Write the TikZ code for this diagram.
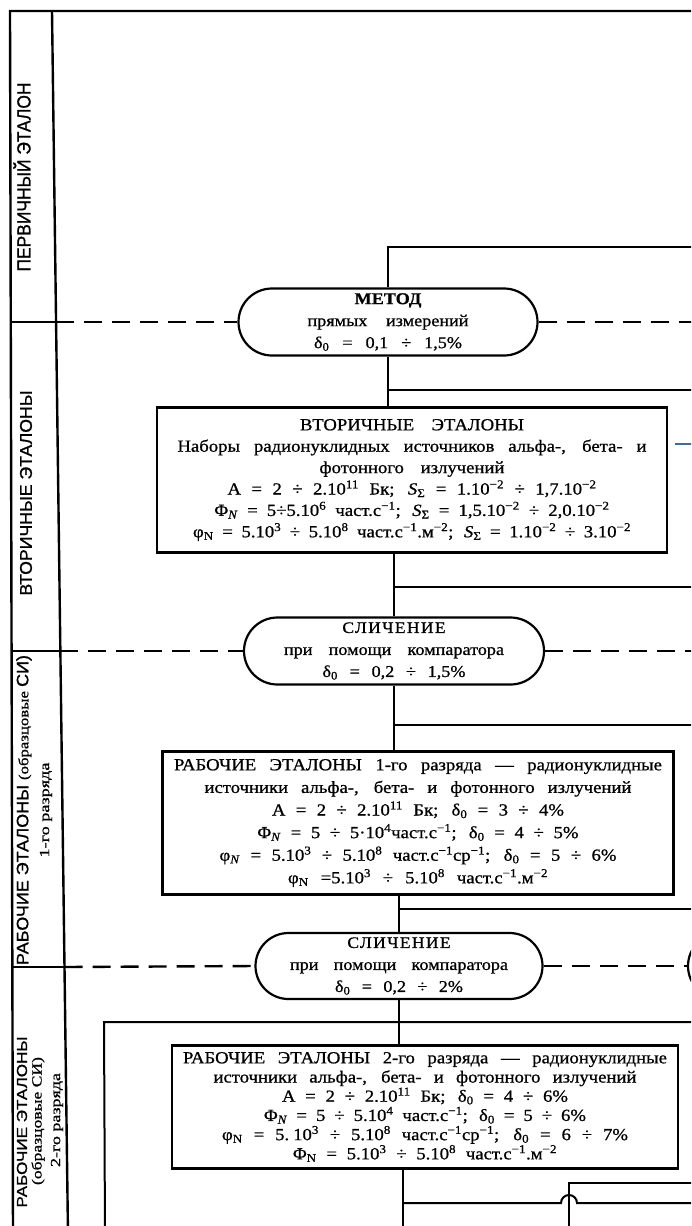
\documentclass[tikz,border=0pt]{standalone}
\usepackage{fontspec}
\setmainfont{Liberation Serif}
\newfontfamily\labelsans[FakeBold=1]{Liberation Sans}
\newfontfamily\boxserif[FakeStretch=1.1,FakeBold=0.8]{Liberation Serif}
\newfontfamily\capsserif[FakeStretch=1.1,FakeBold=0.8,LetterSpace=8]{Liberation Serif}
\usetikzlibrary{shapes.misc}
\definecolor{markblue}{RGB}{70,105,155}
% one line of text stretched to a given width at its spaces
\newcommand\wline[2]{\makebox[#1][s]{#2}}
\newcommand\sps[1]{\textsuperscript{#1}}
\newcommand\sbs[1]{\textsubscript{#1}}
% squeeze or stretch a label to a given length, keeping its height
\newcommand\fitlen[2]{\resizebox{#1}{\height}{#2}}

\tikzset{
  frameline/.style={line width=2.4pt},
  conn/.style={line width=2pt},
  levelline/.style={line width=2.4pt, dash pattern=on 18pt off 10pt},
  pill/.style={draw, rounded rectangle, line width=2.2pt, inner sep=0pt,
    minimum height=67pt, align=center, font=\boxserif\fontsize{16.5}{22}\selectfont},
  stdbox/.style={draw, rectangle, line width=2.5pt, inner sep=0pt, align=center},
  rowlabel/.style={rotate=90, inner sep=0pt},
  bluemark/.style={line width=1.2pt, draw=markblue}
}

\begin{document}
\begin{tikzpicture}[x=1pt,y=1pt]
\useasboundingbox (0,0) rectangle (691,-1226);
\fill[white] (0,0) rectangle (691,-1226);
\clip (0,0) rectangle (691,-1226);

% ---------- frame and the column of level names ----------
\coordinate (fr0) at (13,-1235);
\coordinate (fr1) at (10,-11);
\coordinate (fr2) at (700,-11);
\coordinate (colT) at (52,-11);
\coordinate (colB) at (68,-1235);
\draw[frameline] (fr0) -- (fr1) -- (fr2);
\draw[frameline] (colT) -- (colB);

\coordinate (f1) at (10.8,-322);  \coordinate (c1) at (56.1,-322);
\coordinate (f2) at (11.6,-651);  \coordinate (c2) at (60.4,-651);
\coordinate (f3) at (12.4,-967);  \coordinate (c3) at (64.6,-967);
\draw[frameline] (f1) -- (c1);
\draw[frameline] (f2) -- (c2);
\draw[frameline] (f3) -- (c3);

\node[rowlabel, font=\labelsans\fontsize{19}{19}\selectfont] (lab1) at (22,-177)
  {\fitlen{189pt}{ПЕРВИЧНЫЙ ЭТАЛОН}};
\node[rowlabel, font=\labelsans\fontsize{17}{17}\selectfont] (lab2) at (26,-493)
  {\fitlen{205pt}{ВТОРИЧНЫЕ ЭТАЛОНЫ}};
\node[rowlabel] (lab3a) at (24,-810)
  {\fitlen{310pt}{\labelsans\fontsize{16.5}{17}\selectfont РАБОЧИЕ ЭТАЛОНЫ
   \boxserif\fontsize{14}{14}\selectfont (образцовые
   \labelsans\fontsize{16.5}{17}\selectfont СИ)}};
\node[rowlabel] (lab3b) at (46,-810)
  {\fitlen{95pt}{\boxserif\fontsize{14}{14}\selectfont 1-го разряда}};
\node[rowlabel] (lab4a) at (22,-1122)
  {\fitlen{171pt}{\labelsans\fontsize{14.5}{15}\selectfont РАБОЧИЕ ЭТАЛОНЫ}};
\node[rowlabel] (lab4b) at (38,-1121)
  {\fitlen{128pt}{\boxserif\fontsize{14}{14}\selectfont (образцовые СИ)}};
\node[rowlabel] (lab4c) at (57,-1120)
  {\fitlen{94pt}{\boxserif\fontsize{14}{14}\selectfont 2-го разряда}};

% ---------- methods of transfer ----------
\node[pill, minimum width=299pt] (M) at (388,-322)
  {{\bfseries\fontsize{16.5}{16.5}\selectfont МЕТОД}\\
   \wline{161pt}{прямых измерений}\\
   \wline{148pt}{δ\sbs{0} = 0,1 ÷ 1,5\%}};
\node[pill, minimum width=300pt] (S1) at (394,-651)
  {{\capsserif\fontsize{16}{16}\selectfont СЛИЧЕНИЕ}\\
   \wline{220pt}{при помощи компаратора}\\
   \wline{143pt}{δ\sbs{0} = 0,2 ÷ 1,5\%}};
\node[pill, minimum width=287pt, minimum height=66pt] (S2) at (399,-966)
  {{\capsserif\fontsize{16}{16}\selectfont СЛИЧЕНИЕ}\\
   \wline{218pt}{при помощи компаратора}\\
   \wline{128pt}{δ\sbs{0} = 0,2 ÷ 2\%}};
\node[pill, minimum width=150pt, minimum height=66pt] (S3) at (763,-966) {};

% ---------- standards ----------
\node[stdbox, minimum width=510pt, minimum height=145pt,
      font=\boxserif\fontsize{17}{21.4}\selectfont] (A) at (412,-480)
  {\wline{224pt}{ВТОРИЧНЫЕ ЭТАЛОНЫ}\\
   \wline{469pt}{Наборы радионуклидных источников альфа-, бета- и}\\
   \wline{185pt}{фотонного излучений}\\
   \wline{369pt}{A = 2 ÷ 2.10\sps{11} Бк; \textit{S}\sbs{Σ} = 1.10\sps{−2} ÷ 1,7.10\sps{−2}}\\
   \wline{395pt}{Φ\sbs{\textit{N}} = 5÷5.10\sps{6} част.с\sps{−1}; \textit{S}\sbs{Σ} = 1,5.10\sps{−2} ÷ 2,0.10\sps{−2}}\\
   \wline{438pt}{φ\sbs{N} = 5.10\sps{3} ÷ 5.10\sps{8} част.с\sps{−1}.м\sps{−2}; \textit{S}\sbs{Σ} = 1.10\sps{−2} ÷ 3.10\sps{−2}}};

\node[stdbox, minimum width=511pt, minimum height=143pt,
      font=\boxserif\fontsize{17}{22.6}\selectfont] (B) at (418,-823)
  {\wline{488pt}{РАБОЧИЕ ЭТАЛОНЫ 1-го разряда — радионуклидные}\\
   \wline{427pt}{источники альфа-, бета- и фотонного излучений}\\
   \wline{292pt}{A = 2 ÷ 2.10\sps{11} Бк; δ\sbs{0} = 3 ÷ 4\%}\\
   \wline{321pt}{Φ\sbs{\textit{N}} = 5 ÷ 5·10\sps{4}част.с\sps{−1}; δ\sbs{0} = 4 ÷ 5\%}\\
   \wline{397pt}{φ\sbs{\textit{N}} = 5.10\sps{3} ÷ 5.10\sps{8} част.с\sps{−1}ср\sps{−1}; δ\sbs{0} = 5 ÷ 6\%}\\
   \wline{260pt}{φ\sbs{N} =5.10\sps{3} ÷ 5.10\sps{8} част.с\sps{−1}.м\sps{−2}}};

\node[stdbox, minimum width=506pt, minimum height=123pt,
      font=\boxserif\fontsize{17}{19.2}\selectfont] (C) at (425,-1107)
  {\wline{484pt}{РАБОЧИЕ ЭТАЛОНЫ 2-го разряда — радионуклидные}\\
   \wline{423pt}{источники альфа-, бета- и фотонного излучений}\\
   \wline{286pt}{A = 2 ÷ 2.10\sps{11} Бк; δ\sbs{0} = 4 ÷ 6\%}\\
   \wline{322pt}{Φ\sbs{\textit{N}} = 5 ÷ 5.10\sps{4} част.с\sps{−1}; δ\sbs{0} = 5 ÷ 6\%}\\
   \wline{406pt}{φ\sbs{N} = 5.\kern4pt 10\sps{3} ÷ 5.10\sps{8} част.с\sps{−1}ср\sps{−1}; δ\sbs{0} = 6 ÷ 7\%}\\
   \wline{264pt}{Φ\sbs{N} = 5.10\sps{3} ÷ 5.10\sps{8} част.с\sps{−1}.м\sps{−2}}};

% ---------- level boundaries through the methods ----------
\draw[levelline] (c1) -- (M.west);
\draw[levelline] (M.east) -- (700,-322);
\draw[levelline] (c2) -- (S1.west);
\draw[levelline] (S1.east) -- (700,-651);
\draw[levelline] (c3) -- (S2.west);
\draw[levelline] (S2.east) -- (S3.west);

% ---------- main line of transfer and its branches ----------
\coordinate (t0) at (388,-247);  \coordinate (r0) at (700,-247);
\coordinate (j1) at (388,-390);  \coordinate (r1) at (700,-390);
\coordinate (j2) at (394,-587);  \coordinate (r2) at (700,-587);
\coordinate (j3) at (394,-725);  \coordinate (r3) at (700,-725);
\coordinate (j4) at (399,-909);  \coordinate (r4) at (700,-909);
\coordinate (j5) at (403,-1203); \coordinate (r5) at (700,-1203);
\coordinate (cb) at (403,-1235);

\draw[conn] (r0) -- (t0) -- (M.north);
\draw[conn] (M.south) -- (M.south |- A.north);
\draw[conn] (j1) -- (r1);
\draw[conn] (S1.north |- A.south) -- (S1.north);
\draw[conn] (j2) -- (r2);
\draw[conn] (S1.south) -- (S1.south |- B.north);
\draw[conn] (j3) -- (r3);
\draw[conn] (S2.north |- B.south) -- (S2.north);
\draw[conn] (j4) -- (r4);
\draw[conn] (S2.south) -- (S2.south |- C.north);
\draw[conn] (C.south -| cb) -- (cb);

% feedback loop round the second-grade standards
\coordinate (L0) at (104,-1022); \coordinate (L1) at (700,-1022);
\coordinate (Lb) at (105,-1235);
\draw[conn] (Lb) -- (L0) -- (L1);

% bottom branch, hopping over the side line
\coordinate (v0) at (569,-1183); \coordinate (v1) at (700,-1183);
\coordinate (vb) at (569,-1235);
\coordinate (h0) at (561,-1203);
\draw[conn] (vb) -- (v0) -- (v1);
\draw[conn] (j5) -- (h0) arc (180:0:8) -- (r5);

% short blue mark to the right of the secondary standards
\coordinate (bm0) at (675,-444); \coordinate (bm1) at (700,-444);
\draw[bluemark] (bm0) -- (bm1);
\end{tikzpicture}
\end{document}
